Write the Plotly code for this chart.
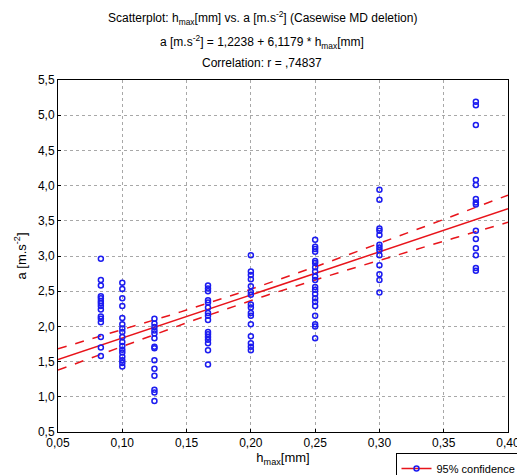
import numpy as np
import plotly.graph_objs as go

# h_max levels [mm] and measured a [m.s-2] for each level
h_levels = [1 / 12, 0.10, 0.125, 1 / 6, 0.20, 0.25, 0.30, 0.375]
a_values = [
    [2.96, 2.66, 2.58, 2.43, 2.40, 2.36, 2.33, 2.29, 2.24, 2.14, 2.11, 2.06, 1.85, 1.70, 1.58],
    [2.62, 2.53, 2.40, 2.29, 2.12, 2.03, 1.97, 1.92, 1.85, 1.78, 1.72, 1.67, 1.63, 1.57, 1.52, 1.48, 1.43],
    [2.11, 2.04, 1.99, 1.94, 1.90, 1.83, 1.71, 1.69, 1.52, 1.40, 1.30, 1.10, 1.06, 0.94],
    [2.58, 2.54, 2.50, 2.37, 2.34, 2.27, 2.19, 2.15, 2.09, 1.92, 1.89, 1.85, 1.81, 1.76, 1.66, 1.46],
    [3.01, 2.78, 2.73, 2.67, 2.57, 2.49, 2.45, 2.31, 2.27, 2.19, 2.15, 2.03, 1.86, 1.76, 1.71, 1.66],
    [3.23, 3.13, 3.10, 3.06, 2.93, 2.90, 2.84, 2.78, 2.71, 2.66, 2.56, 2.52, 2.46, 2.40, 2.35, 2.29, 2.15, 2.03, 2.00, 1.83],
    [3.94, 3.80, 3.39, 3.36, 3.30, 3.16, 3.12, 3.08, 3.01, 2.87, 2.74, 2.66, 2.48],
    [5.19, 5.14, 4.86, 4.08, 4.01, 3.81, 3.76, 3.73, 3.36, 3.24, 3.11, 3.01, 2.83, 2.79],
]

# fit reported by the original chart
intercept = 1.2238
slope = 6.1179

x_ticks = [0.05, 0.10, 0.15, 0.20, 0.25, 0.30, 0.35, 0.40]
y_ticks = [0.5, 1.0, 1.5, 2.0, 2.5, 3.0, 3.5, 4.0, 4.5, 5.0, 5.5]

title_lines = [
    "Scatterplot: h<sub>max</sub>[mm] vs. a [m.s<sup>-2</sup>] (Casewise MD deletion)",
    "a [m.s<sup>-2</sup>] = 1,2238 + 6,1179 * h<sub>max</sub>[mm]",
    "Correlation: r = ,74837",
]

x = np.concatenate([[h] * len(v) for h, v in zip(h_levels, a_values)])
y = np.concatenate(a_values)

# regression line and confidence band of the mean
n = len(x)
xs = np.linspace(0.05, 0.40, 100)
fit = intercept + slope * xs
resid = y - (intercept + slope * x)
s = np.sqrt(np.sum(resid ** 2) / (n - 2))
sxx = np.sum((x - x.mean()) ** 2)
band = 1.75 * s * np.sqrt(1 / n + (xs - x.mean()) ** 2 / sxx)

red = "#e8141b"
blue = "#1c1cf0"

fig = go.Figure()
fig.add_trace(go.Scatter(x=xs, y=fit, mode="lines", line=dict(color=red, width=1.5),
                         showlegend=False, hoverinfo="skip"))
fig.add_trace(go.Scatter(x=xs, y=fit + band, mode="lines", line=dict(color=red, width=1.5, dash="dash"),
                         showlegend=False, hoverinfo="skip"))
fig.add_trace(go.Scatter(x=xs, y=fit - band, mode="lines", line=dict(color=red, width=1.5, dash="dash"),
                         showlegend=False, hoverinfo="skip"))
fig.add_trace(go.Scatter(x=x, y=y, mode="markers",
                         marker=dict(symbol="circle-open", size=5, color=blue, line=dict(width=1.5)),
                         showlegend=False))
# legend entry only
fig.add_trace(go.Scatter(x=[None], y=[None], mode="lines+markers", name="95% confidence",
                         line=dict(color=red, width=1.5),
                         marker=dict(symbol="circle-open", size=5, color=blue, line=dict(width=1.5))))

# title lines placed one by one above the plot area
for line, ypix in zip(title_lines, [18, 42, 63]):
    fig.add_annotation(text=line, xref="paper", yref="paper", x=0.454, y=(432 - ypix) / 352,
                       xanchor="center", yanchor="middle", showarrow=False,
                       font=dict(size=12))

# the page adds an 8px body margin, so the figure is sized to fit inside the window
fig.update_layout(
    width=517, height=467,
    template="plotly_white",
    separators=", ",
    font=dict(family="Arial, Liberation Sans, sans-serif", size=11, color="black"),
    margin=dict(l=50, r=17, t=72, b=43, autoexpand=False),
    legend=dict(x=0.75, y=-0.06, xanchor="left", yanchor="top", bordercolor="black",
                borderwidth=1, bgcolor="white", font=dict(size=11),
                itemwidth=30),
    plot_bgcolor="white",
    paper_bgcolor="white",
)
fig.update_xaxes(
    range=[0.05, 0.40], tickvals=x_ticks, tickformat=".2f",
    showline=True, linecolor="black", linewidth=1, mirror=True,
    ticks="inside", ticklen=3, tickcolor="black",
    showgrid=True, gridcolor="#a8a8a8", griddash="dot", gridwidth=1,
    zeroline=False, tickfont=dict(size=12),
    title=dict(text="h<sub>max</sub>[mm]", standoff=3, font=dict(size=13)),
)
fig.update_yaxes(
    range=[0.5, 5.5], tickvals=y_ticks, tickformat=".1f",
    showline=True, linecolor="black", linewidth=1, mirror=True,
    ticks="inside", ticklen=3, tickcolor="black",
    showgrid=True, gridcolor="#a8a8a8", griddash="dot", gridwidth=1,
    zeroline=False, tickfont=dict(size=12),
    title=dict(text="a [m.s<sup>-2</sup>]", standoff=8, font=dict(size=13)),
)

fig.write_html("out.html")
